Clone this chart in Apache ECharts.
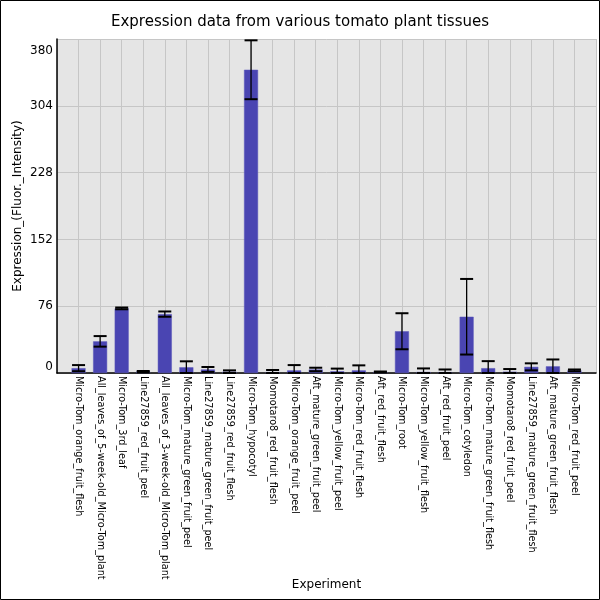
<!DOCTYPE html>
<html>
<head>
<meta charset="utf-8">
<script src="https://cdn.jsdelivr.net/npm/echarts@6/dist/echarts.min.js"></script>
<style>
  html, body { margin: 0; padding: 0; background: #fff; }
  #chart { width: 600px; height: 600px; }
</style>
</head>
<body>
<div id="chart"></div>
<script>
// tissue names, in plot order
var tissues = [
    'Micro-Tom_orange_fruit_flesh',
    'All_leaves_of_5-week-old_Micro-Tom_plant',
    'Micro-Tom_3rd_leaf',
    'Line27859_red_fruit_peel',
    'All_leaves_of_3-week-old_Micro-Tom_plant',
    'Micro-Tom_mature_green_fruit_peel',
    'Line27859_mature_green_fruit_peel',
    'Line27859_red_fruit_flesh',
    'Micro-Tom_hypocotyl',
    'Momotaro8_red_fruit_flesh',
    'Micro-Tom_orange_fruit_peel',
    'Aft_mature_green_fruit_peel',
    'Micro-Tom_yellow_fruit_peel',
    'Micro-Tom_red_fruit_flesh',
    'Aft_red_fruit_flesh',
    'Micro-Tom_root',
    'Micro-Tom_yellow_fruit_flesh',
    'Aft_red_fruit_peel',
    'Micro-Tom_cotyledon',
    'Micro-Tom_mature_green_fruit_flesh',
    'Momotaro8_red_fruit_peel',
    'Line27859_mature_green_fruit_flesh',
    'Aft_mature_green_fruit_flesh',
    'Micro-Tom_red_fruit_peel'
];
// mean expression
var expression = [5.5, 36, 73.5, 1.5, 67, 6.5, 4, 1.5, 345, 1, 3, 4,
                  2, 3, 1.2, 47.5, 1.2, 1, 64, 5.5, 1.5, 7, 7.6, 3];
// error bar half-length
var errors = [3.5, 6, 1, 0.8, 3, 6.8, 2.8, 1.5, 33.5, 2.4, 6, 2,
              3, 5.7, 0.5, 20.5, 4, 3, 43, 8, 3, 4, 7.8, 1];
var yTicks = [0, 76, 152, 228, 304, 380];

// one empty slot on each side so the bars sit one step in from the frame
var axisData = [''].concat(tissues).concat(['']);
var barData = ['-'].concat(expression).concat(['-']);
var errData = expression.map(function (v, i) {
    return [i + 1, Math.max(0, v - errors[i]), v + errors[i]];
});
var yMax = yTicks[yTicks.length - 1];

var myChart = echarts.init(document.getElementById('chart'));

var option = {
    animation: false,
    backgroundColor: '#fff',
    textStyle: { fontFamily: 'DejaVu Sans' },
    title: {
        text: 'Expression data from various tomato plant tissues',
        left: 'center',
        top: 10,
        textStyle: { fontSize: 15, fontWeight: 'normal', color: '#000', fontFamily: 'DejaVu Sans' }
    },
    graphic: [{
        type: 'rect',
        shape: { x: 0.5, y: 0.5, width: 599, height: 599 },
        style: { fill: 'none', stroke: '#000', lineWidth: 1 },
        z: 100
    }],
    grid: {
        left: 57,
        right: 4,
        top: 39,
        bottom: 227,
        outerBoundsMode: 'none',
        show: true,
        backgroundColor: '#e5e5e5',
        borderWidth: 0
    },
    xAxis: {
        type: 'category',
        data: axisData,
        boundaryGap: false,
        name: 'Experiment',
        nameLocation: 'middle',
        nameGap: 206,
        nameMoveOverlap: false,
        nameTextStyle: { fontSize: 12, color: '#000' },
        axisLine: { lineStyle: { color: '#000', width: 1.5 } },
        axisTick: { show: false },
        axisLabel: {
            interval: 0,
            rotate: -90,
            fontSize: 9.7,
            color: '#000',
            margin: 3
        },
        splitLine: { show: true, lineStyle: { color: '#c6c6c6', width: 1 } }
    },
    yAxis: {
        type: 'value',
        min: yTicks[0],
        max: yMax,
        interval: yTicks[1] - yTicks[0],
        name: 'Expression_(Fluor._Intensity)',
        nameLocation: 'middle',
        nameGap: 33,
        nameMoveOverlap: false,
        nameTextStyle: { fontSize: 12, color: '#000' },
        axisLine: { show: true, lineStyle: { color: '#000', width: 1.5 } },
        axisTick: { show: false },
        axisLabel: {
            fontSize: 12,
            color: '#000',
            margin: 4,
            verticalAlignMinLabel: 'bottom',
            verticalAlignMaxLabel: 'top',
            formatter: function (v) {
                return v === yMax ? '{mx|' + v + '}' : String(v);
            },
            rich: {
                mx: { fontSize: 12, color: '#000', padding: [6, 0, 0, 0] }
            }
        },
        splitLine: { show: true, lineStyle: { color: '#c6c6c6', width: 1 } }
    },
    series: [{
        name: 'Expression',
        type: 'bar',
        data: barData,
        barWidth: 14,
        itemStyle: { color: '#4a45b2', borderColor: '#5b57bb', borderWidth: 0.5 }
    }, {
        name: 'Error',
        type: 'custom',
        data: errData,
        z: 5,
        renderItem: function (params, api) {
            var x = api.value(0);
            var lo = api.coord([x, api.value(1)]);
            var hi = api.coord([x, api.value(2)]);
            var hw = 6.5;
            var s = { stroke: '#000', lineWidth: 1.3 };
            var c = { stroke: '#000', lineWidth: 2 };
            return {
                type: 'group',
                children: [
                    { type: 'line', shape: { x1: hi[0], y1: hi[1], x2: lo[0], y2: lo[1] }, style: s },
                    { type: 'line', shape: { x1: hi[0] - hw, y1: hi[1], x2: hi[0] + hw, y2: hi[1] }, style: c },
                    { type: 'line', shape: { x1: lo[0] - hw, y1: lo[1], x2: lo[0] + hw, y2: lo[1] }, style: c }
                ]
            };
        }
    }]
};

myChart.setOption(option);
</script>
</body>
</html>
